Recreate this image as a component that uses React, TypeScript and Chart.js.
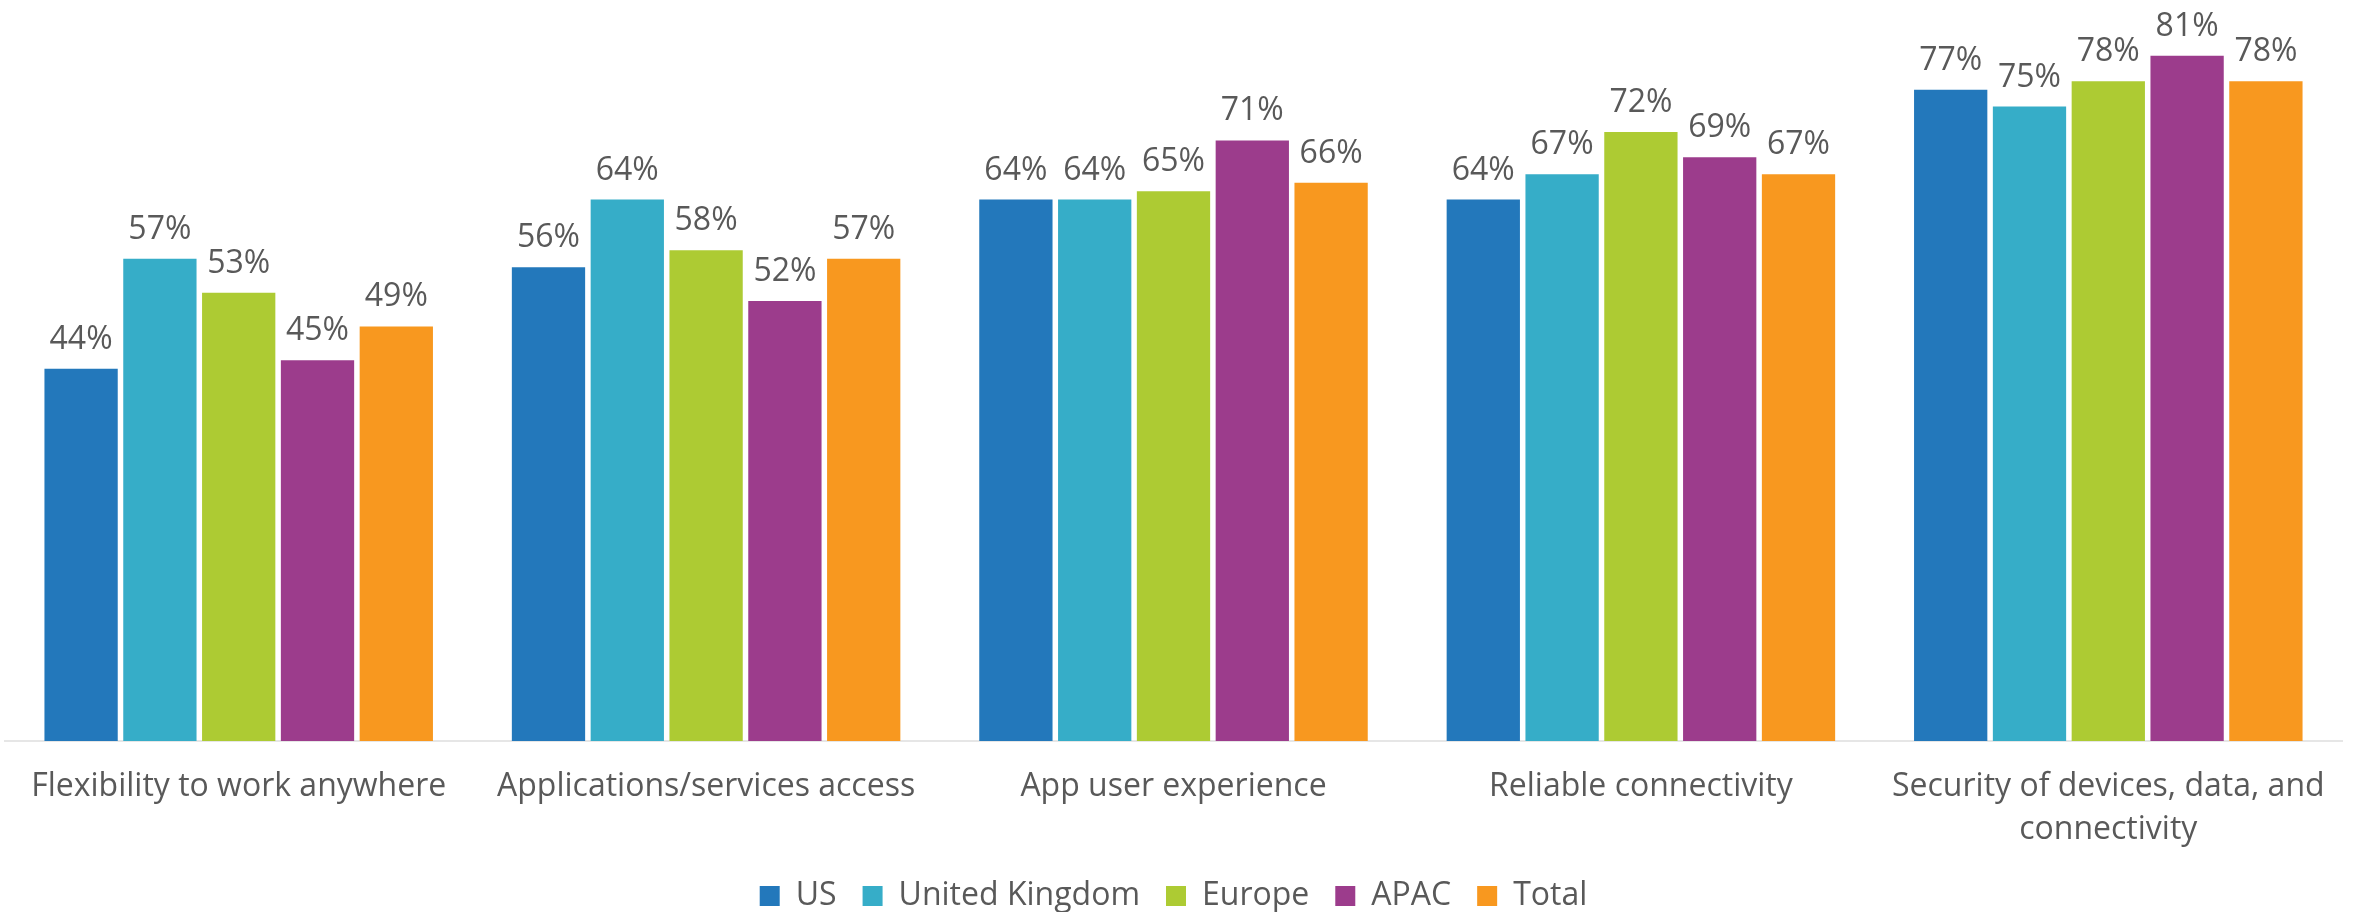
import React, { useEffect, useRef } from "react";
import { Chart, registerables } from "chart.js";

Chart.register(...registerables);

const categories: (string | string[])[] = [
  "Flexibility to work anywhere",
  "Applications/services access",
  "App user experience",
  "Reliable connectivity",
  ["Security of devices, data, and", "connectivity"],
];

const seriesNames = ["US", "United Kingdom", "Europe", "APAC", "Total"];
const usValues = [44, 56, 64, 64, 77];
const ukValues = [57, 64, 64, 67, 75];
const europeValues = [53, 58, 65, 72, 78];
const apacValues = [45, 52, 71, 69, 81];
const totalValues = [49, 57, 66, 67, 78];
const seriesColors = ["#2378BB", "#36ADC8", "#ADCB33", "#9C3C8C", "#F8981F"];

const FONT = "'Open Sans', 'Noto Sans', sans-serif";
const TEXT_COLOR = "#595959";
const FONT_SIZE = 32;

const valueLabels = {
  id: "valueLabels",
  afterDatasetsDraw(chart: any) {
    const ctx = chart.ctx;
    ctx.save();
    ctx.font = `${FONT_SIZE}px ${FONT}`;
    ctx.fillStyle = TEXT_COLOR;
    ctx.textAlign = "center";
    ctx.textBaseline = "alphabetic";
    chart.data.datasets.forEach((ds: any, i: number) => {
      const meta = chart.getDatasetMeta(i);
      meta.data.forEach((el: any, j: number) => {
        ctx.fillText(`${ds.data[j]}%`, el.x, el.y - 20);
      });
    });
    ctx.restore();
  },
};

export default function App() {
  const ref = useRef<HTMLCanvasElement>(null);
  useEffect(() => {
    let chart: Chart | null = null;
    let cancelled = false;
    const make = () => {
      if (cancelled || !ref.current) return;
      const allSeries = [usValues, ukValues, europeValues, apacValues, totalValues];
      chart = new Chart(ref.current, {
        type: "bar",
        data: {
          labels: categories as any,
          datasets: allSeries.map((vals, i) => ({
            label: seriesNames[i],
            data: vals,
            backgroundColor: seriesColors[i],
            borderWidth: 0,
            categoryPercentage: 0.843,
            barPercentage: 0.93,
          })),
        },
        options: {
          responsive: false,
          animation: false,
          layout: { padding: { left: 5, right: 14, top: 0, bottom: -10 } },
          plugins: {
            legend: {
              position: "bottom",
              labels: {
                boxWidth: 20,
                boxHeight: 20,
                padding: 26,
                color: TEXT_COLOR,
                font: { family: FONT, size: FONT_SIZE },
              },
            },
            tooltip: { enabled: false },
          },
          scales: {
            x: {
              grid: { display: false, drawTicks: false },
              border: { display: true, color: "#E6E6E6", width: 2 },
              ticks: {
                color: TEXT_COLOR,
                font: { family: FONT, size: FONT_SIZE, lineHeight: 1.33 },
                padding: 25,
                maxRotation: 0,
                autoSkip: false,
              },
              afterFit: (scale: any) => {
                scale.height -= 22;
              },
            },
            y: {
              display: false,
              min: 0,
              max: 87.6,
            },
          },
        },
        plugins: [valueLabels],
      });
    };
    if ((document as any).fonts && (document as any).fonts.load) {
      (document as any).fonts
        .load(`${FONT_SIZE}px "Open Sans"`)
        .then(make, make);
    } else {
      make();
    }
    return () => {
      cancelled = true;
      if (chart) chart.destroy();
    };
  }, []);
  return (
    <div style={{ position: "fixed", left: 0, top: 0, width: 2356, height: 912, background: "#fff" }}>
      <canvas ref={ref} width={2356} height={912} style={{ display: "block" }} />
    </div>
  );
}
